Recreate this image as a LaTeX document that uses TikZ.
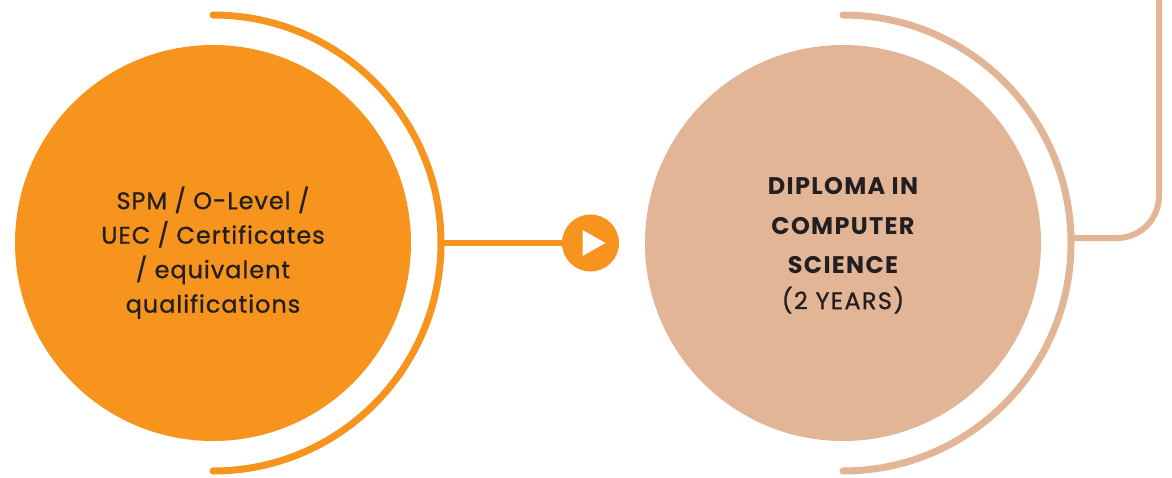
\documentclass[tikz,border=0pt]{standalone}
\usepackage{fontspec}
\setmainfont{Poppins}
\usetikzlibrary{positioning}
\definecolor{qualorange}{HTML}{F7941D}
\definecolor{diplomatan}{HTML}{E2B597}
\definecolor{textdark}{HTML}{231F20}

\begin{document}
\begin{tikzpicture}[x=1pt,y=-1pt,
  stage/.style={circle,minimum size=396pt,inner sep=0pt},
  label/.style={align=center,inner sep=0pt,text=textdark},
  ring/.style={line width=7pt,line cap=round},
  link/.style={line width=6pt}]
  \useasboundingbox (0,0) rectangle (1172,477);
  % the two stages
  \node[stage,fill=qualorange] (entry) at (213,243) {};
  \node[stage,fill=diplomatan] (diploma) at (843,243) {};
  \node[label,font=\fontsize{24}{34.5}\selectfont\addfontfeature{FakeBold=0.9,LetterSpace=4}] (entrytext) at ([yshift=-11pt]entry.center)
    {\begin{tabular}{@{}c@{}}SPM / O-Level /\\UEC / Certificates\\/ equivalent\\qualifications\end{tabular}};
  \node[label,font=\bfseries\fontsize{24}{39.5}\selectfont\addfontfeature{LetterSpace=5.5}] (diplomatext) at ([yshift=-1pt]diploma.center)
    {\begin{tabular}{@{}c@{}}DIPLOMA IN\\COMPUTER\\SCIENCE\\[-4pt]\mdseries\addfontfeature{FakeBold=0.9}(2 YEARS)\end{tabular}};
  % rings round them
  \draw[ring,qualorange] ([yshift=228pt]entry.center) arc[start angle=-90,end angle=90,radius=228];
  \draw[ring,diplomatan] ([yshift=228pt]diploma.center) arc[start angle=-90,end angle=90,radius=228];
  \coordinate (entryring) at ([xshift=228pt]entry.center);
  \coordinate (diplomaring) at ([xshift=228pt,yshift=5pt]diploma.center);
  % play button
  \node[circle,fill=qualorange,minimum size=57pt,inner sep=0pt] (play) at (590.5,243) {};
  \fill[white] ([shift={(-8,-13)}]play.center) -- ([shift={(15,0)}]play.center) -- ([shift={(-8,13)}]play.center) -- cycle;
  \draw[link,qualorange] (entryring) -- (play);
  % onwards
  \coordinate (exit) at (1159,0);
  \draw[link,diplomatan,rounded corners=42pt] (diplomaring) -- (exit |- diplomaring) -- (exit);
\end{tikzpicture}
\end{document}
